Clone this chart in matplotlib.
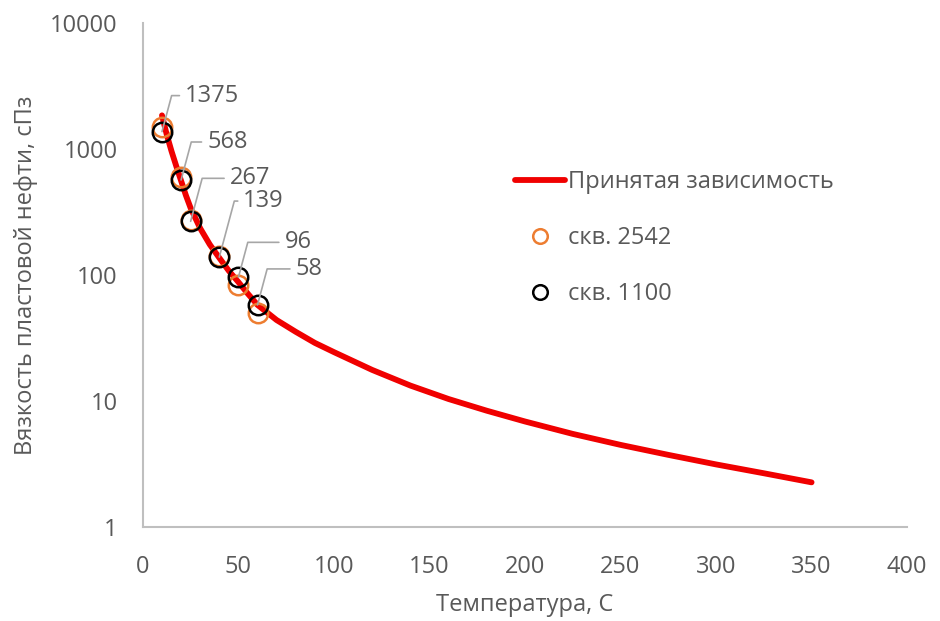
import matplotlib.pyplot as plt
from matplotlib.ticker import FixedLocator, FixedFormatter

plt.rcParams['font.family'] = ['Open Sans', 'DejaVu Sans']

# accepted curve
curve_t = [10, 12.5, 15, 17.5, 20, 22.5, 25, 30, 35, 40, 45, 50, 55, 60, 70, 80, 90,
           100, 120, 140, 160, 180, 200, 225, 250, 275, 300, 325, 350]
curve_v = [1850, 1300, 960, 730, 560, 430, 340, 235, 175, 137, 108, 88, 71, 58, 44, 35.5, 29,
           24.5, 17.7, 13.3, 10.4, 8.4, 6.9, 5.5, 4.5, 3.75, 3.15, 2.68, 2.27]

# well 2542
t_2542 = [10, 20, 25, 40, 50, 60]
v_2542 = [1500, 600, 275, 143, 83, 50]

# well 1100 (labelled)
t_1100 = [10, 20, 25, 40, 50, 60]
v_1100 = [1375, 568, 267, 139, 96, 58]

xticks = [0, 50, 100, 150, 200, 250, 300, 350, 400]
yticks = [1, 10, 100, 1000, 10000]

# label offsets in pixels (dx, dy) from each point
label_offsets = [(23, 36), (26, 38), (39, 43), (24, 56), (46, 35), (38, 36)]

grey = '#595959'
fs = 17

fig = plt.figure(figsize=(9.4, 6.21), dpi=100)
ax = fig.add_axes([0.152, 0.151, 0.813, 0.812])

ax.plot(curve_t, curve_v, color='#f00000', lw=4.2, solid_capstyle='round',
        solid_joinstyle='round', label='Принятая зависимость', zorder=2)
ax.plot(t_2542, v_2542, ls='none', marker='o', ms=14, mfc='none', mec='#ed7d31',
        mew=1.8, label='скв. 2542', zorder=3)
ax.plot(t_1100, v_1100, ls='none', marker='o', ms=14, mfc='none', mec='black',
        mew=1.8, label='скв. 1100', zorder=4)

for t, v, (dx, dy) in zip(t_1100, v_1100, label_offsets):
    ax.annotate(str(v), xy=(t, v), xytext=(dx * 0.72, dy * 0.72),
                textcoords='offset points', ha='left', va='center',
                fontsize=fs, color=grey,
                arrowprops=dict(arrowstyle='-', color='#a6a6a6', lw=1.2,
                                shrinkA=2, shrinkB=0,
                                connectionstyle='angle,angleA=0,angleB=75,rad=0'),
                zorder=5)

ax.set_yscale('log')
ax.set_xlim(0, 400)
ax.set_ylim(1, 10000)
ax.xaxis.set_major_locator(FixedLocator(xticks))
ax.yaxis.set_major_locator(FixedLocator(yticks))
ax.yaxis.set_major_formatter(FixedFormatter([str(y) for y in yticks]))
ax.yaxis.set_minor_locator(FixedLocator([]))
ax.tick_params(length=0, labelsize=fs, labelcolor=grey)
ax.tick_params(axis='x', pad=20)
ax.tick_params(axis='y', pad=18)

for side in ['top', 'right']:
    ax.spines[side].set_visible(False)
for side in ['left', 'bottom']:
    ax.spines[side].set_color('#bfbfbf')
    ax.spines[side].set_linewidth(1.5)

ax.set_xlabel('Температура, С', fontsize=fs, color=grey, labelpad=10)
ax.set_ylabel('Вязкость пластовой нефти, сПз', fontsize=fs, color=grey, labelpad=9)

ax.legend(loc='center left', bbox_to_anchor=(0.487, 0.573), frameon=False,
          fontsize=fs, labelcolor=grey, labelspacing=1.35, handlelength=2.1,
          handletextpad=0.15, markerscale=0.75, borderpad=0, borderaxespad=0)

fig.savefig('out.png', dpi=100)
